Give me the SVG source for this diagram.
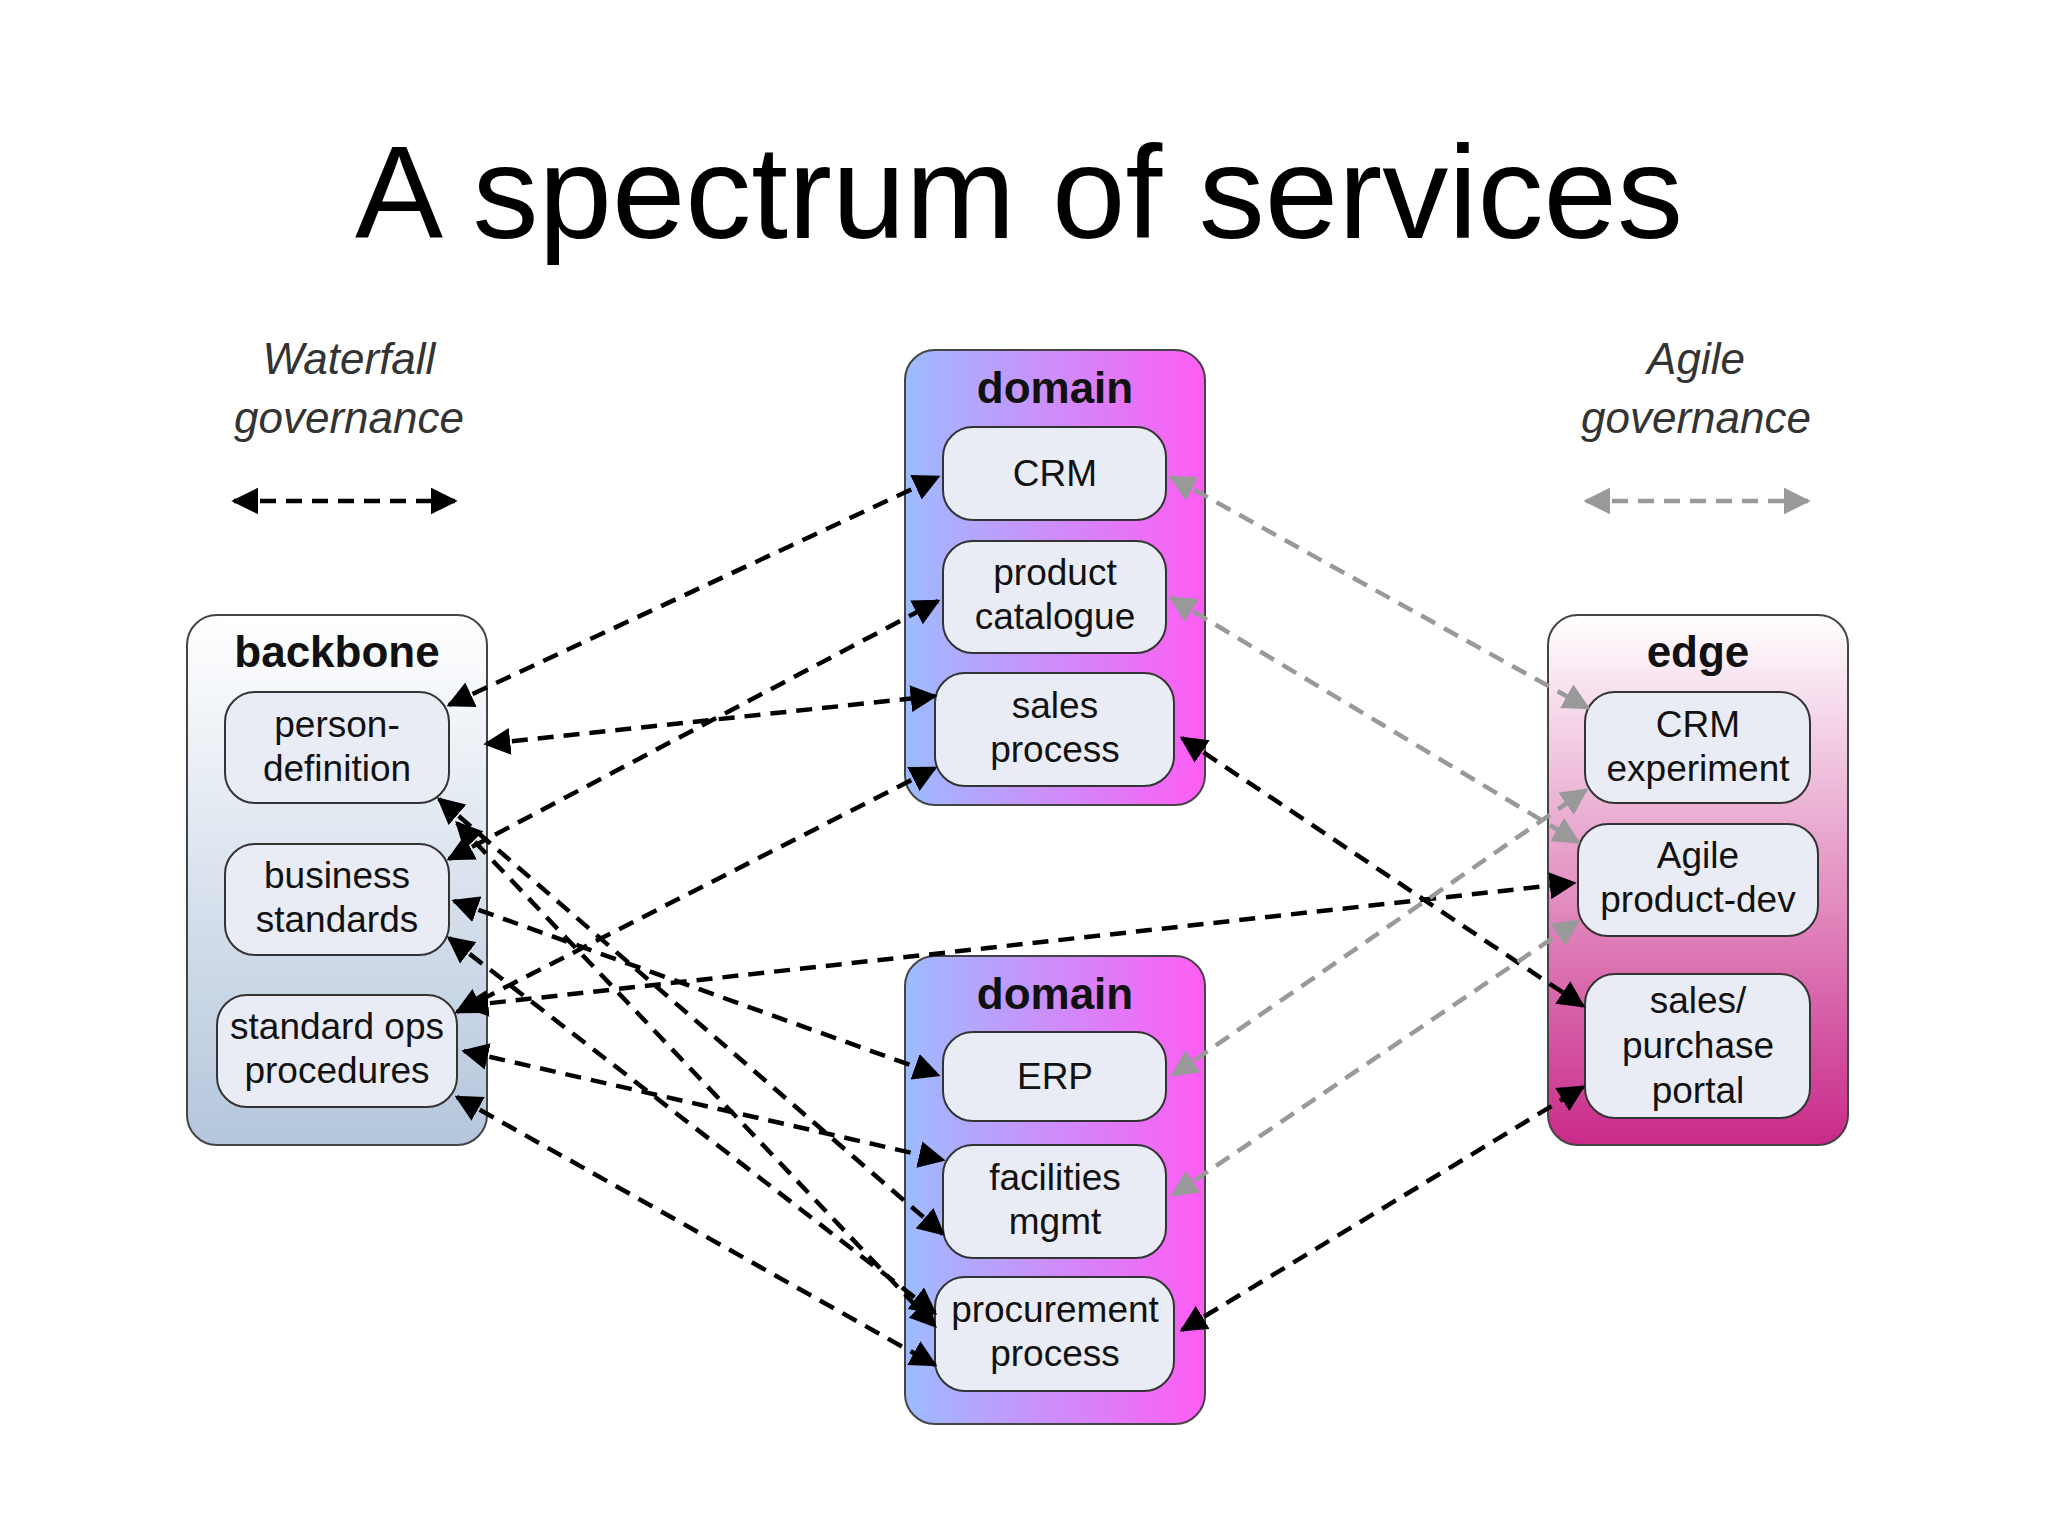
<svg xmlns="http://www.w3.org/2000/svg" width="2048" height="1536" viewBox="0 0 2048 1536">
<defs>
<linearGradient id="gb" x1="0" y1="0" x2="0" y2="1"><stop offset="0" stop-color="#ffffff"/><stop offset="1" stop-color="#b4c6dc"/></linearGradient>
<linearGradient id="gd" x1="0" y1="0" x2="1" y2="0"><stop offset="0" stop-color="#9cbcff"/><stop offset="1" stop-color="#ff5cf4"/></linearGradient>
<linearGradient id="ge" x1="0" y1="0" x2="0" y2="1"><stop offset="0" stop-color="#ffffff"/><stop offset="1" stop-color="#c92a8a"/></linearGradient>
<marker id="ab" viewBox="0 0 10 10" refX="9" refY="5" markerWidth="6" markerHeight="6" orient="auto-start-reverse" markerUnits="strokeWidth"><path d="M0,0 L10,5 L0,10 z" fill="#000"/></marker>
<marker id="ag" viewBox="0 0 10 10" refX="9" refY="5" markerWidth="6" markerHeight="6" orient="auto-start-reverse" markerUnits="strokeWidth"><path d="M0,0 L10,5 L0,10 z" fill="#999"/></marker>
</defs>
<style>
text{font-family:"Liberation Sans",Arial,sans-serif;text-anchor:middle}
.t{font-size:37px;fill:#111}
.h{font-size:44px;font-weight:bold;fill:#111}
.g{font-size:44px;font-style:italic;fill:#333}
.box{stroke:#444;stroke-width:2}
.n{fill:#e9ecf4;stroke:#333;stroke-width:2}
.b{stroke:#000;stroke-width:4.5;stroke-dasharray:16 10;fill:none;marker-start:url(#ab);marker-end:url(#ab)}
.y{stroke:#999;stroke-width:4.5;stroke-dasharray:16 10;fill:none;marker-start:url(#ag);marker-end:url(#ag)}
</style>
<rect width="2048" height="1536" fill="#fff"/>
<text x="1019" y="238" style="font-size:132px;fill:#000">A spectrum of services</text>
<g id="waterfall"><text class="g" x="349" y="374">Waterfall</text><text class="g" x="349" y="433">governance</text>
<line class="b" x1="234" y1="501" x2="455" y2="501"/></g>
<g id="agile"><text class="g" x="1696" y="374">Agile</text><text class="g" x="1696" y="433">governance</text>
<line class="y" x1="1586" y1="501" x2="1808" y2="501"/></g>
<g id="backbone"><rect class="box" x="187" y="615" width="300" height="530" rx="30" fill="url(#gb)"/><text class="h" x="337" y="667">backbone</text></g>
<g id="person-definition"><rect class="n" x="225" y="692" width="224" height="111" rx="30"/><text class="t" x="337" y="737">person-</text><text class="t" x="337" y="781">definition</text></g>
<g id="business-standards"><rect class="n" x="225" y="844" width="224" height="111" rx="30"/><text class="t" x="337" y="888">business</text><text class="t" x="337" y="932">standards</text></g>
<g id="standard-ops"><rect class="n" x="217" y="995" width="240" height="112" rx="30"/><text class="t" x="337" y="1039">standard ops</text><text class="t" x="337" y="1083">procedures</text></g>
<g id="domain1"><rect class="box" x="905" y="350" width="300" height="455" rx="30" fill="url(#gd)"/><text class="h" x="1055" y="403">domain</text></g>
<g id="crm"><rect class="n" x="943" y="427" width="223" height="93" rx="30"/><text class="t" x="1055" y="486">CRM</text></g>
<g id="product-catalogue"><rect class="n" x="943" y="541" width="223" height="112" rx="30"/><text class="t" x="1055" y="585">product</text><text class="t" x="1055" y="629">catalogue</text></g>
<g id="sales-process"><rect class="n" x="935" y="673" width="239" height="113" rx="30"/><text class="t" x="1055" y="718">sales</text><text class="t" x="1055" y="762">process</text></g>
<g id="domain2"><rect class="box" x="905" y="956" width="300" height="468" rx="30" fill="url(#gd)"/><text class="h" x="1055" y="1009">domain</text></g>
<g id="erp"><rect class="n" x="943" y="1032" width="223" height="89" rx="30"/><text class="t" x="1055" y="1089">ERP</text></g>
<g id="facilities"><rect class="n" x="943" y="1145" width="223" height="113" rx="30"/><text class="t" x="1055" y="1190">facilities</text><text class="t" x="1055" y="1234">mgmt</text></g>
<g id="procurement"><rect class="n" x="935" y="1277" width="239" height="114" rx="30"/><text class="t" x="1055" y="1322">procurement</text><text class="t" x="1055" y="1366">process</text></g>
<g id="edge"><rect class="box" x="1548" y="615" width="300" height="530" rx="30" fill="url(#ge)"/><text class="h" x="1698" y="667">edge</text></g>
<g id="crm-experiment"><rect class="n" x="1585" y="692" width="225" height="111" rx="30"/><text class="t" x="1698" y="737">CRM</text><text class="t" x="1698" y="781">experiment</text></g>
<g id="agile-product-dev"><rect class="n" x="1578" y="824" width="240" height="112" rx="30"/><text class="t" x="1698" y="868">Agile</text><text class="t" x="1698" y="912">product-dev</text></g>
<g id="portal"><rect class="n" x="1585" y="974" width="225" height="144" rx="30"/><text class="t" x="1698" y="1013">sales/</text><text class="t" x="1698" y="1058">purchase</text><text class="t" x="1698" y="1103">portal</text></g>
<g id="connectors">
<line class="b" x1="449" y1="705" x2="938" y2="477"/>
<line class="b" x1="486" y1="744" x2="935" y2="696"/>
<line class="b" x1="449" y1="859" x2="938" y2="601"/>
<line class="b" x1="457" y1="1012" x2="935" y2="768"/>
<line class="b" x1="439" y1="799" x2="943" y2="1234"/>
<line class="b" x1="457" y1="823" x2="935" y2="1326"/>
<line class="b" x1="454" y1="901" x2="938" y2="1075"/>
<line class="b" x1="449" y1="938" x2="935" y2="1313"/>
<line class="b" x1="464" y1="1006" x2="1574" y2="883"/>
<line class="b" x1="464" y1="1051" x2="943" y2="1160"/>
<line class="b" x1="457" y1="1097" x2="935" y2="1365"/>
<line class="b" x1="1182" y1="738" x2="1583" y2="1006"/>
<line class="b" x1="1182" y1="1330" x2="1583" y2="1087"/>
<line class="y" x1="1171" y1="477" x2="1588" y2="708"/>
<line class="y" x1="1171" y1="598" x2="1578" y2="842"/>
<line class="y" x1="1173" y1="1075" x2="1586" y2="790"/>
<line class="y" x1="1173" y1="1195" x2="1578" y2="921"/>
</g>
</svg>
